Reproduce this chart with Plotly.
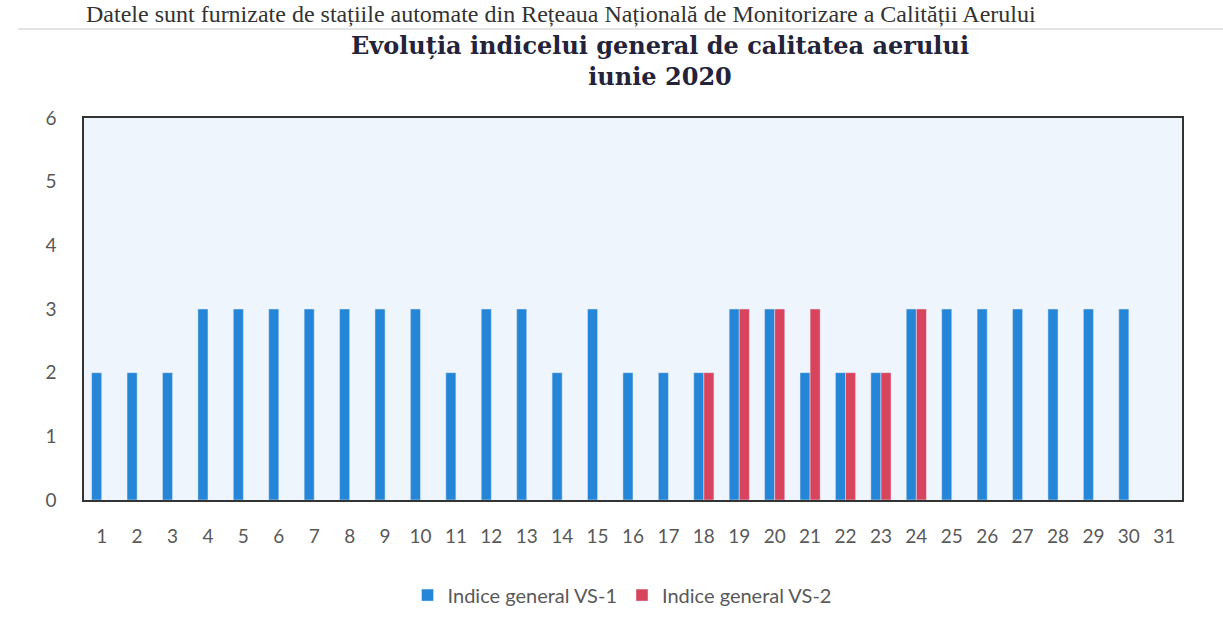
import plotly.graph_objects as go

days = [str(d) for d in range(1, 32)]
vs1 = [2, 2, 2, 3, 3, 3, 3, 3, 3, 3, 2, 3, 3, 2, 3, 2, 2, 2, 3, 3, 2, 2, 2, 3, 3, 3, 3, 3, 3, 3, None]
vs2 = [None] * 17 + [2, 3, 3, 3, 2, 2, 3] + [None] * 7
y_ticks = [0, 1, 2, 3, 4, 5, 6]

title_lines = ["Evoluția indicelui general de calitatea aerului", "iunie 2020"]
header_text = "Datele sunt furnizate de stațiile automate din Rețeaua Națională de Monitorizare a Calității Aerului"

fig = go.Figure()
fig.add_trace(go.Bar(x=days, y=vs1, name="Indice general VS-1", marker_color="#2585d6"))
fig.add_trace(go.Bar(x=days, y=vs2, name="Indice general VS-2", marker_color="#d8435d"))

plot_h = 629 - 118 - 129
scan_line_y = 1 + 89 / plot_h

fig.update_layout(
    width=1223, height=629,
    margin=dict(l=84, r=41, t=118, b=129, autoexpand=False),
    paper_bgcolor="white",
    plot_bgcolor="#eef5fc",
    barmode="group",
    bargap=0.43,
    bargroupgap=0,
    font=dict(family="Lato, sans-serif", color="#595959", size=18),
    showlegend=True,
    legend=dict(orientation="h", x=0.49, xanchor="center", y=-0.249, yanchor="middle",
                font=dict(size=20, color="#595959"), bgcolor="rgba(0,0,0,0)",
                itemwidth=30, tracegroupgap=0),
    annotations=[
        dict(text="<b>" + title_lines[0] + "</b><br><b>" + title_lines[1] + "</b>",
             xref="paper", yref="paper", x=0.525, y=1.0, yanchor="bottom", xanchor="center",
             yshift=25, showarrow=False,
             font=dict(family="DejaVu Serif, serif", size=24, color="#23233a")),
        dict(text=header_text, xref="paper", yref="paper", x=0.0, xanchor="left",
             y=1.0, yanchor="middle", yshift=118 - 14, showarrow=False,
             font=dict(family="Liberation Serif, serif", size=24, color="#333333")),
    ],
    shapes=[dict(type="line", xref="paper", yref="paper", x0=-0.06, x1=1.04,
                 y0=scan_line_y, y1=scan_line_y, line=dict(color="#c8c8c8", width=1))],
)

fig.update_xaxes(showline=True, linecolor="#333333", linewidth=1.5, mirror=True,
                 showgrid=False, ticks="", ticklabelstandoff=18, automargin=False,
                 tickfont=dict(size=19, color="#595959"))
fig.update_yaxes(range=[0, 6], tickvals=y_ticks, showline=True, linecolor="#333333", linewidth=1.5,
                 mirror=True, showgrid=False, ticks="", ticklabelstandoff=22, zeroline=False,
                 automargin=False, tickfont=dict(size=19, color="#595959"))

fig.write_html("out.html", config={"displayModeBar": False},
               post_script="document.body.style.margin='0';")
